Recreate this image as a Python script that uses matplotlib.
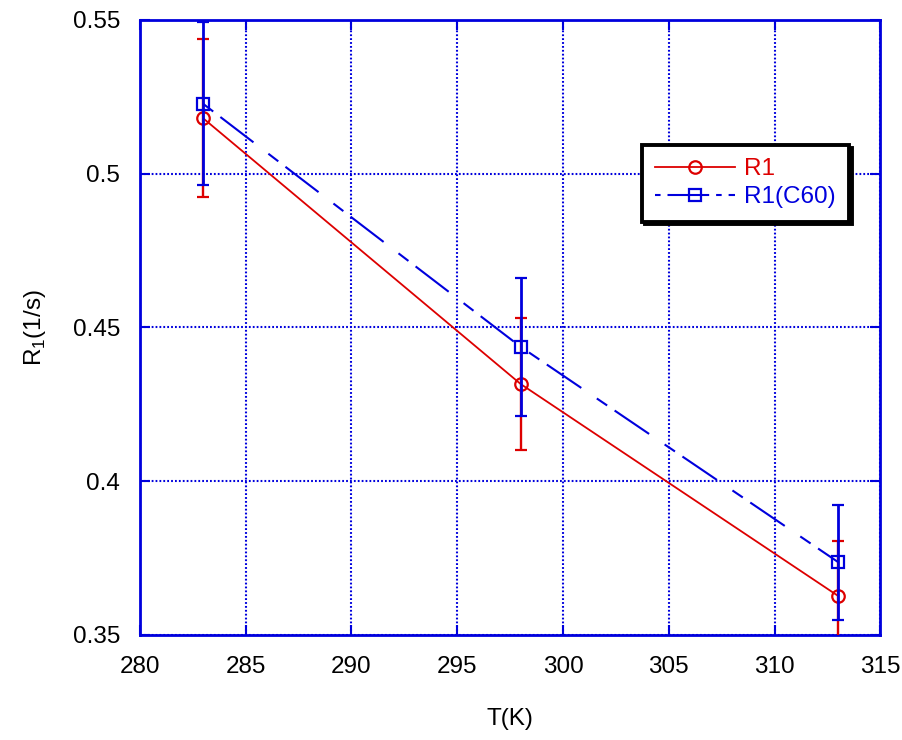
import matplotlib
matplotlib.use("Agg")
import matplotlib.pyplot as plt
from matplotlib.lines import Line2D

# Data
T = [283, 298, 313]
r1 = [0.518, 0.4316, 0.3627]
r1_err = [0.0257, 0.0214, 0.018]
c60 = [0.5227, 0.4437, 0.3737]
c60_err = [0.0265, 0.0224, 0.0187]
xticks = [280, 285, 290, 295, 300, 305, 310, 315]
yticks = [0.35, 0.4, 0.45, 0.5, 0.55]
labels = ['R1', 'R1(C60)']

plt.rcParams['font.family'] = ['Liberation Sans', 'DejaVu Sans']
plt.rcParams['lines.scale_dashes'] = False

BLUE = '#0000dd'
RED = '#dd0000'
DASH = (0, (9, 6.5, 30, 13.5))
FS = 17.5

fig = plt.figure(figsize=(9.02, 7.4), dpi=100)
ax = fig.add_axes([0.155, 0.142, 0.821, 0.831])

ax.errorbar(T, r1, yerr=r1_err, color=RED, lw=1.3, elinewidth=1.7, capsize=4.5,
            capthick=1.6, marker='o', markersize=9, markerfacecolor='none',
            markeredgecolor=RED, markeredgewidth=1.6, zorder=3)
ax.errorbar(T, c60, yerr=c60_err, color=BLUE, lw=1.5, elinewidth=2.0, capsize=4.5,
            capthick=1.6, marker='s', markersize=9, markerfacecolor='none',
            markeredgecolor=BLUE, markeredgewidth=1.6,
            linestyle=DASH, zorder=4)

ax.set_xlim(280, 315)
ax.set_ylim(0.35, 0.55)
ax.set_xticks(xticks)
ax.set_yticks(yticks)
ax.set_xticklabels([str(v) for v in xticks])
ax.set_yticklabels(['0.35', '0.4', '0.45', '0.5', '0.55'])

ax.grid(True, color=BLUE, linestyle=(0, (1.3, 1.5)), linewidth=1.5)
for s in ax.spines.values():
    s.set_color(BLUE)
    s.set_linewidth(2)
ax.tick_params(direction='in', length=7, width=1.5, color=BLUE,
               top=True, right=True, labelsize=FS, labelcolor='black')
ax.tick_params(axis='x', pad=15)
ax.tick_params(axis='y', pad=14)

ax.set_xlabel('T(K)', fontsize=FS, labelpad=22)
ax.set_ylabel(r'R$_\mathregular{1}$(1/s)', fontsize=FS, labelpad=18)

handles = [
    Line2D([], [], color=RED, lw=1.3, marker='o', markersize=9,
           markerfacecolor='none', markeredgecolor=RED, markeredgewidth=1.6),
    Line2D([], [], color=BLUE, lw=1.5, marker='s', markersize=9,
           markerfacecolor='none', markeredgecolor=BLUE, markeredgewidth=1.6,
           linestyle=(0, (4, 5, 30, 5))),
]
leg = ax.legend(handles, labels, loc='upper left', bbox_to_anchor=(0.678, 0.797),
                fontsize=FS, frameon=True, fancybox=False, edgecolor='black',
                handlelength=3.3, labelspacing=0.25, borderpad=0.55,
                handletextpad=0.35, borderaxespad=0,
                shadow={'color': 'black', 'alpha': 1})
leg.get_frame().set_linewidth(2.8)
for txt, c in zip(leg.get_texts(), [RED, BLUE]):
    txt.set_color(c)

fig.savefig('out.png', dpi=100)
